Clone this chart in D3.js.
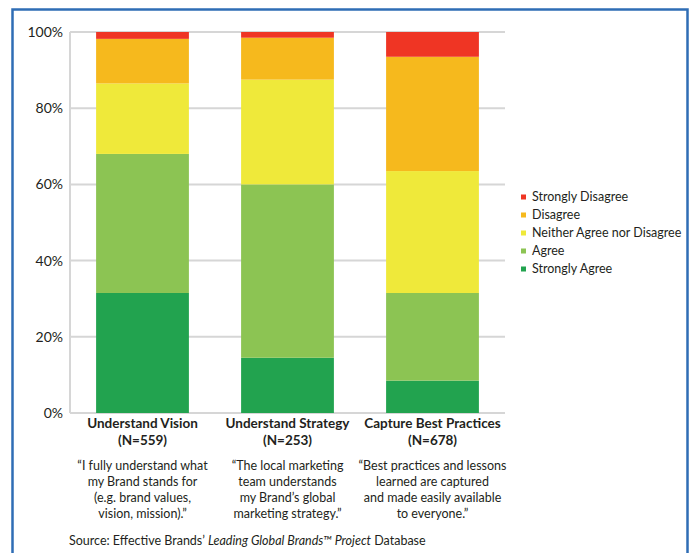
<!DOCTYPE html>
<html>
<head>
<meta charset="utf-8">
<script src="https://cdn.jsdelivr.net/npm/d3@7"></script>
<style>
  html, body { margin: 0; padding: 0; background: #fff; }
  svg { display: block; font-family: Lato, "Open Sans", sans-serif; }
</style>
</head>
<body>
<div id="chart"></div>
<script>
// categories along the x axis
const categories = ["Understand Vision", "Understand Strategy", "Capture Best Practices"];
const sampleSizes = ["(N=559)", "(N=253)", "(N=678)"];
const quotes = [
  ["\u201CI fully understand what", "my Brand stands for", "(e.g. brand values,", "vision, mission).\u201D"],
  ["\u201CThe local marketing", "team understands", "my Brand\u2019s global", "marketing strategy.\u201D"],
  ["\u201CBest practices and lessons", "learned are captured", "and made easily available", "to everyone.\u201D"]
];

// series, bottom to top, percent of respondents
const seriesNames = ["Strongly Agree", "Agree", "Neither Agree nor Disagree", "Disagree", "Strongly Disagree"];
const stronglyAgree = [31.5, 14.5, 8.5];
const agree = [36.5, 45.5, 23];
const neither = [18.5, 27.5, 32];
const disagree = [11.7, 11, 30];
const stronglyDisagree = [1.8, 1.5, 6.5];
const seriesColours = ["#22a34f", "#8cc453", "#efe93a", "#f6b91d", "#ef3524"];

const yTicks = [0, 20, 40, 60, 80, 100];

const width = 694;
const height = 553;

const svg = d3.select("#chart")
  .append("svg")
  .attr("width", width)
  .attr("height", height);

// blue frame round the whole figure (bottom edge is off the page)
svg.append("rect")
  .attr("x", 12.5)
  .attr("y", 9.5)
  .attr("width", 675)
  .attr("height", 600)
  .attr("fill", "none")
  .attr("stroke", "#2f6db5")
  .attr("stroke-width", 2.5);

const plotLeft = 70, plotRight = 505, plotTop = 32, plotBottom = 413;

const x = d3.scaleBand()
  .domain(categories)
  .range([plotLeft, plotRight])
  .paddingInner(0.36)
  .paddingOuter(0.18);

const y = d3.scaleLinear()
  .domain([0, 100])
  .range([plotBottom, plotTop]);

// grid lines
svg.append("g")
  .selectAll("line")
  .data(yTicks)
  .join("line")
  .attr("x1", plotLeft)
  .attr("x2", plotRight)
  .attr("y1", d => y(d))
  .attr("y2", d => y(d))
  .attr("stroke", "#d6d6d6")
  .attr("stroke-width", 2);

// left axis line
svg.append("line")
  .attr("x1", plotLeft)
  .attr("x2", plotLeft)
  .attr("y1", plotTop)
  .attr("y2", plotBottom)
  .attr("stroke", "#d6d6d6")
  .attr("stroke-width", 2);

// y tick labels
svg.append("g")
  .selectAll("text")
  .data(yTicks)
  .join("text")
  .attr("x", plotLeft - 7)
  .attr("y", d => y(d))
  .attr("dy", "0.35em")
  .attr("text-anchor", "end")
  .attr("font-size", 14)
  .attr("fill", "#231f20")
  .text(d => d + "%");

// stack the series
const rows = categories.map((c, i) => ({
  category: c,
  "Strongly Agree": stronglyAgree[i],
  "Agree": agree[i],
  "Neither Agree nor Disagree": neither[i],
  "Disagree": disagree[i],
  "Strongly Disagree": stronglyDisagree[i]
}));
const stacked = d3.stack().keys(seriesNames)(rows);

svg.append("g")
  .selectAll("g")
  .data(stacked)
  .join("g")
  .attr("fill", (d, i) => seriesColours[i])
  .selectAll("rect")
  .data(d => d)
  .join("rect")
  .attr("x", d => x(d.data.category))
  .attr("width", x.bandwidth())
  .attr("y", d => y(Math.min(d[1], 100)))
  .attr("height", d => y(d[0]) - y(Math.min(d[1], 100)));

// category labels
const labels = svg.append("g")
  .selectAll("g")
  .data(categories)
  .join("g")
  .attr("transform", d => `translate(${x(d) + x.bandwidth() / 2},0)`);

labels.append("text")
  .attr("y", 428)
  .attr("text-anchor", "middle")
  .attr("font-size", 13.5)
  .attr("font-weight", "bold")
  .attr("fill", "#231f20")
  .text(d => d);

labels.append("text")
  .attr("y", 445)
  .attr("text-anchor", "middle")
  .attr("font-size", 13.5)
  .attr("font-weight", "bold")
  .attr("fill", "#231f20")
  .text((d, i) => sampleSizes[i]);

labels.each(function (d, i) {
  d3.select(this).selectAll("text.quote")
    .data(quotes[i])
    .join("text")
    .attr("class", "quote")
    .attr("y", (q, j) => 470 + j * 16)
    .attr("text-anchor", "middle")
    .attr("font-size", 12.5)
    .attr("fill", "#231f20")
    .text(q => q);
});

// legend, top entry is Strongly Disagree
const legendNames = seriesNames.slice().reverse();
const legendColours = seriesColours.slice().reverse();
const legend = svg.append("g")
  .selectAll("g")
  .data(legendNames)
  .join("g")
  .attr("transform", (d, i) => `translate(521,${197 + i * 18})`);

legend.append("rect")
  .attr("x", 0)
  .attr("y", -2.5)
  .attr("width", 5)
  .attr("height", 5)
  .attr("fill", (d, i) => legendColours[i]);

legend.append("text")
  .attr("x", 11)
  .attr("dy", "0.35em")
  .attr("font-size", 12.5)
  .attr("fill", "#231f20")
  .text(d => d);

// source line
const source = svg.append("text")
  .attr("x", 69)
  .attr("y", 545)
  .attr("font-size", 12.5)
  .attr("fill", "#231f20");
source.append("tspan").text("Source: Effective Brands\u2019 ");
source.append("tspan").attr("font-style", "italic").text("Leading Global Brands\u2122 Project");
source.append("tspan").text(" Database");
</script>
</body>
</html>
